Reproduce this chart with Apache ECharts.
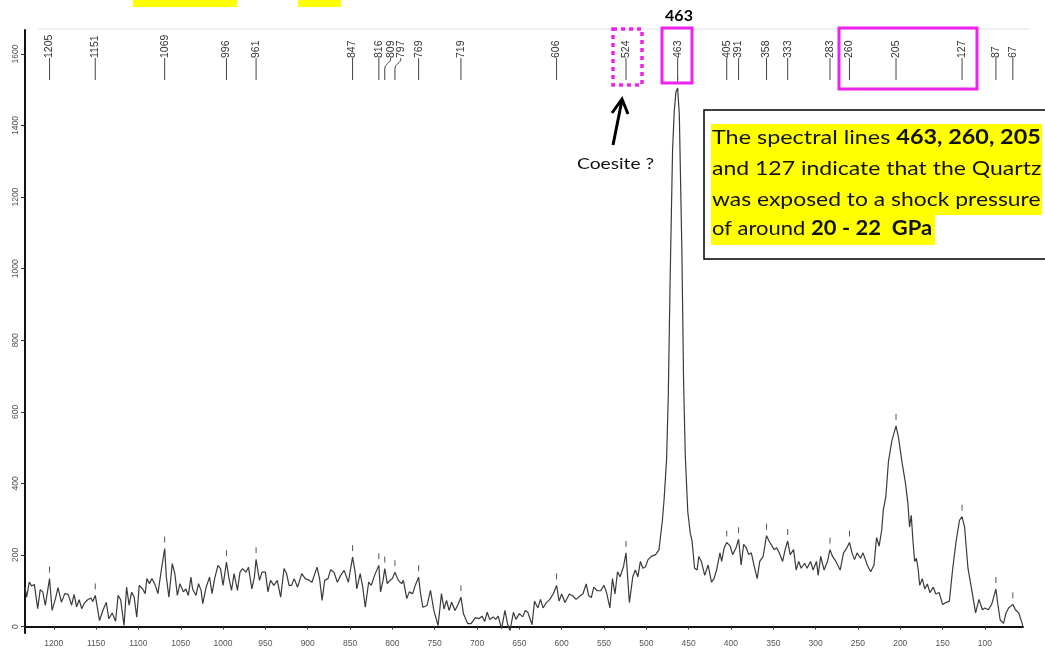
<!DOCTYPE html>
<html>
<head>
<meta charset="utf-8">
<script src="https://cdn.jsdelivr.net/npm/echarts@6/dist/echarts.min.js"></script>
<style>
  html, body { margin: 0; padding: 0; background: #fff; }
  #chart { width: 1045px; height: 651px; }
</style>
</head>
<body>
<div id="chart"></div>
<script>
// Raman shift (cm-1) and intensity
var ramanShift = [1234, 1232, 1229, 1226, 1223, 1219, 1216, 1213, 1210, 1205, 1202, 1198, 1195, 1191, 1187, 1183, 1179, 1176, 1173, 1170, 1167, 1164, 1160, 1156, 1154, 1151, 1149, 1146, 1142, 1138, 1135, 1131, 1127, 1124, 1121, 1117, 1114, 1111, 1108, 1105, 1102, 1099, 1095, 1092, 1090, 1087, 1084, 1080, 1077, 1073, 1069, 1067, 1064, 1060, 1057, 1054, 1051, 1047, 1044, 1041, 1038, 1036, 1032, 1029, 1026, 1024, 1020, 1016, 1013, 1010, 1006, 1003, 1000, 996, 993, 990, 987, 983, 980, 977, 973, 970, 966, 963, 961, 957, 954, 950, 947, 944, 940, 936, 932, 928, 925, 922, 919, 916, 912, 907, 903, 898, 895, 889, 886, 883, 880, 876, 873, 869, 865, 861, 857, 852, 847, 844, 842, 838, 835, 832, 828, 825, 821, 816, 814, 811, 809, 806, 803, 800, 797, 793, 789, 787, 783, 780, 776, 773, 769, 767, 764, 759, 755, 751, 746, 742, 739, 736, 733, 730, 726, 722, 719, 716, 711, 707, 702, 698, 694, 691, 688, 685, 681, 678, 675, 671, 667, 664, 661, 657, 654, 650, 646, 643, 640, 635, 632, 628, 625, 622, 618, 614, 610, 606, 603, 600, 596, 591, 587, 583, 578, 575, 571, 568, 565, 562, 558, 554, 550, 547, 543, 540, 537, 534, 531, 527, 524, 520, 516, 513, 510, 507, 504, 501, 498, 494, 489, 485, 481, 479, 476, 474, 472, 469, 467, 465, 463, 461, 458, 456, 454, 451, 448, 446, 443, 440, 438, 435, 431, 427, 423, 420, 417, 413, 411, 408, 405, 401, 398, 394, 391, 388, 385, 382, 379, 376, 372, 369, 366, 362, 358, 355, 353, 349, 346, 343, 339, 336, 333, 330, 326, 323, 320, 317, 313, 310, 306, 303, 299, 297, 294, 290, 286, 283, 280, 276, 271, 267, 263, 260, 257, 254, 251, 247, 244, 239, 235, 231, 228, 225, 222, 220, 217, 214, 210, 205, 202, 198, 194, 191, 189, 187, 185, 183, 181, 179, 177, 174, 171, 168, 165, 161, 158, 154, 150, 146, 142, 138, 134, 130, 127, 124, 120, 115, 111, 107, 103, 100, 96, 92, 87, 85, 82, 78, 75, 72, 67, 64, 60, 56, 55];
var intensity = [110, 82, 124, 113, 118, 50, 103, 97, 59, 134, 45, 78, 109, 68, 92, 90, 60, 90, 55, 75, 50, 65, 75, 80, 70, 87, 60, 17, 45, 68, 22, 38, 15, 87, 75, 3, 110, 60, 96, 82, 26, 115, 105, 92, 134, 120, 134, 115, 92, 157, 218, 138, 82, 176, 148, 87, 120, 97, 105, 87, 138, 105, 87, 120, 101, 64, 110, 138, 92, 134, 171, 162, 115, 180, 134, 101, 148, 101, 152, 162, 152, 166, 105, 138, 188, 129, 152, 152, 97, 129, 115, 129, 82, 162, 148, 115, 115, 134, 110, 148, 134, 129, 124, 166, 134, 73, 129, 134, 159, 152, 124, 143, 157, 124, 194, 152, 105, 148, 110, 54, 124, 115, 143, 171, 97, 129, 162, 120, 129, 134, 152, 129, 120, 129, 78, 97, 92, 115, 138, 97, 54, 59, 101, 45, 3, 92, 49, 73, 45, 68, 45, 64, 82, 36, 8, 8, 25, 22, 29, 14, 40, 20, 27, 20, 29, -6, 45, 8, -11, 40, 20, 36, 27, 45, 40, 5, 71, 52, 76, 52, 67, 76, 91, 115, 71, 91, 67, 91, 86, 76, 86, 91, 119, 86, 81, 110, 100, 100, 115, 95, 52, 134, 91, 153, 139, 167, 206, 67, 139, 158, 139, 182, 163, 167, 187, 196, 201, 215, 297, 355, 470, 650, 950, 1331, 1440, 1494, 1505, 1430, 1052, 689, 480, 320, 260, 240, 163, 158, 196, 182, 143, 172, 124, 134, 158, 206, 182, 220, 235, 225, 201, 220, 244, 172, 230, 220, 201, 206, 163, 134, 182, 196, 254, 239, 235, 215, 220, 206, 182, 215, 239, 201, 215, 158, 182, 163, 177, 163, 182, 158, 182, 143, 196, 158, 182, 215, 196, 182, 158, 206, 220, 235, 206, 187, 206, 191, 206, 172, 153, 172, 249, 225, 268, 326, 364, 460, 518, 561, 527, 460, 403, 345, 278, 311, 239, 182, 191, 163, 115, 134, 105, 119, 95, 110, 91, 95, 62, 67, 71, 163, 239, 297, 307, 278, 163, 95, 38, 76, 47, 52, 47, 62, 105, 67, 19, 9, 38, 52, 62, 47, 38, 9, -2];

// labelled peak positions along the top
var peakLabels = [1205, 1151, 1069, 996, 961, 847, 816, 809, 797, 769, 719, 606, 524, 463, 405, 391, 358, 333, 283, 260, 205, 127, 87, 67];
// tick labels
var xTickLabels = [1200, 1150, 1100, 1050, 1000, 950, 900, 850, 800, 750, 700, 650, 600, 550, 500, 450, 400, 350, 300, 250, 200, 150, 100];
var yTickLabels = [0, 200, 400, 600, 800, 1000, 1200, 1400, 1600];

// labels pushed sideways with a curved leader
var labelShift = { 809: 6, 797: 6 };

var chart = echarts.init(document.getElementById('chart'));

var spectrum = ramanShift.map(function (s, i) { return [s, intensity[i]]; });

function plain(v) { return String(v); }

function renderPeak(params, api) {
  var v = api.value(0);
  var x = api.coord([v, 0])[0];
  var top = params.coordSys.y;
  var shift = labelShift[v] || 0;
  var kids = [];
  kids.push({ type: 'line', shape: { x1: x, y1: top + 39, x2: x, y2: top + 50 }, style: { stroke: '#444', lineWidth: 1 } });
  if (shift) {
    kids.push({
      type: 'bezierCurve',
      shape: { x1: x + shift, y1: top + 28, cpx1: x + shift, cpy1: top + 34, cpx2: x, cpy2: top + 33, x2: x, y2: top + 39 },
      style: { stroke: '#444', fill: null, lineWidth: 1 }
    });
  } else {
    kids.push({ type: 'line', shape: { x1: x, y1: top + 28, x2: x, y2: top + 39 }, style: { stroke: '#444', lineWidth: 1 } });
  }
  kids.push({
    type: 'text', x: x + shift, y: top + 28, rotation: Math.PI / 2,
    style: { text: String(v), textAlign: 'left', textVerticalAlign: 'middle', font: '10.5px "Liberation Sans"', fill: '#333' }
  });
  // little tick above the matching peak of the spectrum
  var peak = -Infinity;
  ramanShift.forEach(function (s, i) { if (Math.abs(s - v) <= 3) peak = Math.max(peak, intensity[i]); });
  var py = api.coord([v, peak])[1];
  kids.push({ type: 'line', shape: { x1: x, y1: py - 12, x2: x, y2: py - 6 }, style: { stroke: '#555', lineWidth: 1 } });
  return { type: 'group', children: kids };
}

var magenta = '#ee22ee';
var boxFont = '20px Lato';
var boxBold = 'bold 20px Lato';

chart.setOption({
  animation: false,
  grid: { left: 25, right: 22, top: 30, bottom: 18 },
  xAxis: {
    type: 'value',
    inverse: true,
    min: 55,
    max: 1234,
    axisLine: { lineStyle: { color: '#111', width: 2 } },
    axisTick: { customValues: xTickLabels, length: 3, lineStyle: { color: '#333' } },
    axisLabel: { customValues: xTickLabels, formatter: plain, fontSize: 8.5, color: '#555', margin: 6, fontFamily: 'Liberation Sans' },
    splitLine: { show: false }
  },
  yAxis: {
    type: 'value',
    min: -18,
    max: 1667,
    axisLine: { show: true, lineStyle: { color: '#111', width: 2 } },
    axisTick: { show: true, customValues: yTickLabels, length: 4, lineStyle: { color: '#333' } },
    axisLabel: { customValues: yTickLabels, formatter: plain, rotate: 90, fontSize: 8.5, color: '#555', margin: 5, fontFamily: 'Liberation Sans' },
    splitLine: { show: false }
  },
  series: [
    {
      type: 'line',
      data: spectrum,
      showSymbol: false,
      lineStyle: { color: '#3a3a3a', width: 1.2 },
      silent: true
    },
    {
      type: 'custom',
      data: peakLabels.map(function (v) { return [v, 0]; }),
      encode: { x: 0, y: 1 },
      renderItem: renderPeak,
      clip: false,
      silent: true,
      z: 5
    }
  ],
  graphic: [
    { type: 'rect', shape: { x: 133, y: 0, width: 104, height: 7 }, style: { fill: '#ffff00' } },
    { type: 'rect', shape: { x: 298, y: 0, width: 43, height: 7 }, style: { fill: '#ffff00' } },
    { type: 'line', shape: { x1: 38, y1: 29, x2: 1030, y2: 29 }, style: { stroke: '#dde2ec', lineWidth: 1 } },
    { type: 'text', x: 679, y: 16, style: { text: '463', font: 'bold 16px Lato', fill: '#000', textAlign: 'center', textVerticalAlign: 'middle' } },
    { type: 'rect', shape: { x: 662, y: 28, width: 30, height: 55 }, style: { fill: null, stroke: magenta, lineWidth: 3 } },
    { type: 'rect', shape: { x: 613, y: 29, width: 29, height: 56 }, style: { fill: null, stroke: magenta, lineWidth: 3.5, lineDash: [4, 4] } },
    { type: 'rect', shape: { x: 839, y: 28, width: 138, height: 61 }, style: { fill: null, stroke: magenta, lineWidth: 3 } },
    { type: 'polyline', shape: { points: [[613, 145], [622, 100]] }, style: { stroke: '#000', lineWidth: 3 } },
    { type: 'polyline', shape: { points: [[612, 113], [622, 99], [628, 114]] }, style: { stroke: '#000', lineWidth: 3, fill: null } },
    { type: 'text', x: 577, y: 164, scaleX: 1.2, style: { text: 'Coesite ?', font: '16px Lato', fill: '#111', textVerticalAlign: 'middle' } },
    { type: 'rect', shape: { x: 704, y: 110, width: 345, height: 149 }, style: { fill: '#fff', stroke: '#000', lineWidth: 1.5 } },
    { type: 'rect', shape: { x: 711, y: 124, width: 331, height: 29 }, style: { fill: '#ffff00' } },
    { type: 'rect', shape: { x: 711, y: 153, width: 331, height: 31 }, style: { fill: '#ffff00' } },
    { type: 'rect', shape: { x: 711, y: 184, width: 331, height: 31 }, style: { fill: '#ffff00' } },
    { type: 'rect', shape: { x: 711, y: 215, width: 224, height: 30 }, style: { fill: '#ffff00' } },
    // justified text: lines 1-3 stretched to the full box width
    {
      type: 'text', x: 712, y: 138, scaleX: 1.17,
      style: {
        text: '{n|The spectral lines }{b|463, 260, 205}', textVerticalAlign: 'middle',
        rich: { n: { font: boxFont, fill: '#111' }, b: { font: boxBold, fill: '#111' } }
      }
    },
    { type: 'text', x: 712, y: 169, scaleX: 1.15, style: { text: 'and 127 indicate that the Quartz', font: boxFont, fill: '#111', textVerticalAlign: 'middle' } },
    { type: 'text', x: 712, y: 200, scaleX: 1.145, style: { text: 'was exposed to a shock pressure', font: boxFont, fill: '#111', textVerticalAlign: 'middle' } },
    {
      type: 'text', x: 712, y: 229, scaleX: 1.1,
      style: {
        text: '{n|of around }{b|20 - 22  GPa}', textVerticalAlign: 'middle',
        rich: { n: { font: boxFont, fill: '#111' }, b: { font: boxBold, fill: '#111' } }
      }
    }
  ]
});
</script>
</body>
</html>
